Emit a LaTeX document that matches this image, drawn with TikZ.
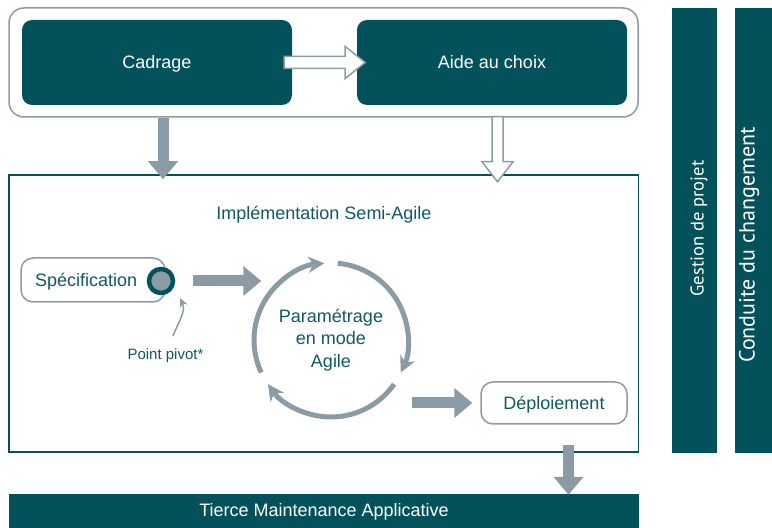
\documentclass[tikz,border=0pt]{standalone}
\usepackage{fontspec}
\setmainfont{Liberation Sans}
\newfontfamily\barfont{PT Sans}
\usetikzlibrary{arrows.meta,calc}

\begin{document}
\begin{tikzpicture}[
            >=latex,
            x=1pt, y=1pt,
            font=\fontsize{18}{22.5}\selectfont,
            framebox/.style={rectangle, rounded corners=15pt, draw=mygray, line width=1.5pt},
            darkbox/.style={rectangle, rounded corners=10pt, fill=myteal, text=white, minimum width=270pt, minimum height=85pt, text height=13pt, text depth=0pt},
            lightbox/.style={rectangle, rounded corners=12pt, draw=mygray, line width=1.5pt, fill=white, text=mytext, text height=13pt, text depth=0pt},
            implbox/.style={rectangle, draw=myteal, line width=1.5pt},
            darkbar/.style={rectangle, fill=myteal, text=white, inner sep=0pt},
            bartext/.style={rotate=90, text=white, inner sep=0pt},
            pivotdot/.style={circle, draw=myteal, line width=4.5pt, fill=mygray, minimum size=24pt, inner sep=0pt},
            blockarrow/.style={draw=mygray, line width=11pt, -{Triangle[length=18pt, width=29pt]}},
            hollowarrow/.style={draw=mygray, fill=white, line width=1.5pt, line join=miter},
            cyclearrow/.style={draw=mygray, line width=5pt, -{Stealth[length=16pt, width=16pt, inset=5pt]}},
            pivotarrow/.style={draw=mygray, line width=1.5pt, -{Stealth[length=9pt, width=8pt]}}
        ]
		\definecolor{myteal}{RGB}{3,81,90}
		\definecolor{mygray}{RGB}{138,155,166}
		\definecolor{mytext}{RGB}{16,88,98}
		
		\useasboundingbox (0,0) rectangle (772,528);
		
		%Phases
		\node[framebox, minimum width=629pt, minimum height=109pt] (phase) at (323.5,465.5) {};
		\node[darkbox] (cadrage) at (157,465.5) {Cadrage};
		\node[darkbox] (aide) at (492,465.5) {Aide au choix};
		\draw[hollowarrow] ($(cadrage.east)+(-8,6)$) -- ++(61,0) -- ++(0,10) -- ++(20,-16) -- ++(-20,-16) -- ++(0,10) -- ++(-61,0) -- cycle;
		
		%Implementation
		\node[implbox, minimum width=629.5pt, minimum height=277pt] (impl) at (323.75,214.5) {};
		\node[anchor=base, text=mytext] (titre) at (324,308) {Implémentation Semi-Agile};
		
		\draw[blockarrow] ($(cadrage.south |- phase.south)+(6,0)$) -- ($(cadrage.south |- impl.north)+(6,-5)$);
		\draw[hollowarrow] ($(aide.south |- phase.south)+(0,1)$) -- ++(0,-45) -- ++(-10,0) -- ++(15.5,-20) -- ++(15.5,20) -- ++(-10,0) -- ++(0,45) -- cycle;
		
		\node[lightbox, minimum width=144pt, minimum height=44pt, inner xsep=14pt, text width=116pt, align=left] (spec) at (93,248) {Spécification};
		\node[pivotdot] (pivot) at (161,247) {};
		\node[anchor=base, text=mytext, font=\fontsize{15}{17}\selectfont] (pivotlbl) at (165.5,168) {Point pivot*};
		\draw[pivotarrow] ($(pivotlbl.north)+(7.5,9.5)$) to[out=70, in=-65] ($(pivot.center)+(19,-17)$);
		
		\draw[blockarrow] ([xshift=18pt]pivot.east) -- ([xshift=86pt]pivot.east);
		
		%Cycle
		\node[text=mytext, align=center] (param) at (331,188) {Paramétrage\\en mode\\Agile};
		\draw[cyclearrow] ($(param.center)+(205:77pt)$) arc[start angle=205, end angle=95, radius=77pt];
		\draw[cyclearrow] ($(param.center)+(85:77pt)$) arc[start angle=85, end angle=-25, radius=77pt];
		\draw[cyclearrow] ($(param.center)+(-35:77pt)$) arc[start angle=-35, end angle=-145, radius=77pt];
		
		\node[lightbox, minimum width=146pt, minimum height=42pt] (deploy) at (554,125) {Déploiement};
		\draw[blockarrow] ([xshift=-68pt]deploy.west) -- ([xshift=-8pt]deploy.west);
		
		%TMA
		\node[darkbar, minimum width=630pt, minimum height=36pt] (tma) at (324,16) {Tierce Maintenance Applicative};
		\draw[blockarrow] ($(deploy.south |- impl.south)+(14.5,7.5)$) -- ($(deploy.south |- tma.north)+(14.5,-1)$);
		
		%Transverse
		\node[darkbar, minimum width=45pt, minimum height=445pt] (gestion) at (694.5,297.5) {};
		\node[darkbar, minimum width=40pt, minimum height=445pt] (conduite) at (755,297.5) {};
		\node[bartext, font=\barfont\fontsize{18.5}{21}\selectfont] at ($(gestion.center)+(4.5,2)$) {Gestion de projet};
		\node[bartext, font=\barfont\fontsize{22}{25}\selectfont] at ($(conduite.center)+(-6,-14.5)$) {Conduite du changement};
    \end{tikzpicture}
\end{document}
